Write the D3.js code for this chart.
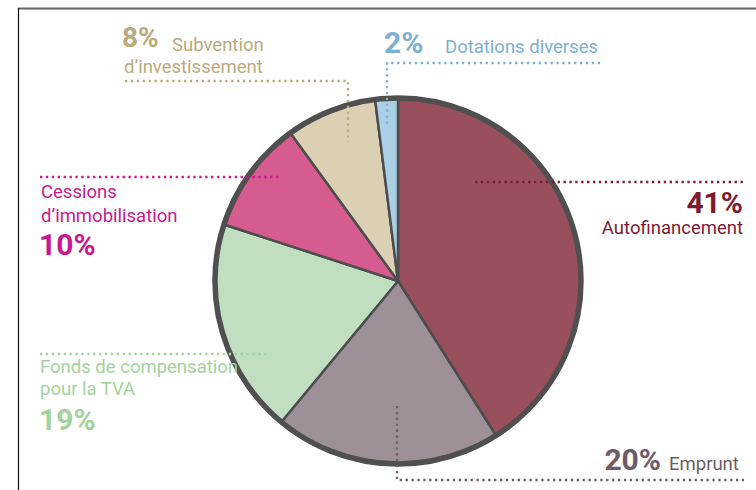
<!DOCTYPE html>
<html>
<head>
<meta charset="utf-8">
<script src="https://cdn.jsdelivr.net/npm/d3@7"></script>
<style>
  body { margin: 0; background: #fff; }
  svg text { font-family: Roboto, "DejaVu Sans", sans-serif; }
</style>
</head>
<body>
<div id="chart"></div>
<script>
// chart data
const categories = ['Autofinancement', 'Emprunt', 'Fonds de compensation pour la TVA',
  "Cessions d'immobilisation", "Subvention d'investissement", 'Dotations diverses'];
const values = [41, 20, 19, 10, 8, 2];
const percentLabels = ['41%', '20%', '19%', '10%', '8%', '2%'];

const sliceColors = ['#9a505c', '#9e9098', '#c1dfc0', '#d65b8f', '#dbd0b4', '#abcfe4'];
const textColors = ['#7b1a30', '#6e5b68', '#a3d39c', '#c8188e', '#bcaa7c', '#7cb0d4'];

const width = 756;
const height = 490;
const cx = 398, cy = 281, radius = 183;

const svg = d3.select('#chart')
  .append('svg')
  .attr('width', width)
  .attr('height', height);

// frame
svg.append('line')
  .attr('x1', 18).attr('y1', 8.5).attr('x2', width).attr('y2', 8.5)
  .attr('stroke', '#666').attr('stroke-width', 2);
svg.append('line')
  .attr('x1', 18.5).attr('y1', 8).attr('x2', 18.5).attr('y2', height)
  .attr('stroke', '#111').attr('stroke-width', 1.2);

// pie
const pie = d3.pie().sort(null).value((d) => d);
const arc = d3.arc().innerRadius(0).outerRadius(radius);
const arcs = pie(values);

const g = svg.append('g').attr('transform', 'translate(' + cx + ',' + cy + ')');
g.selectAll('path')
  .data(arcs)
  .enter()
  .append('path')
  .attr('d', arc)
  .attr('fill', (d, i) => sliceColors[i])
  .attr('stroke', '#4d4d4d')
  .attr('stroke-width', 2.5)
  .attr('stroke-linejoin', 'round');

g.append('circle')
  .attr('r', radius)
  .attr('fill', 'none')
  .attr('stroke', '#4f4f4f')
  .attr('stroke-width', 5.5);

// leader lines (dotted)
function dotted(points, color) {
  svg.append('path')
    .attr('d', d3.line()(points))
    .attr('fill', 'none')
    .attr('stroke', color)
    .attr('stroke-width', 2.3)
    .attr('stroke-dasharray', '2.3,3.6');
}

dotted([[475, 182], [744, 182]], textColors[0]);
dotted([[397, 406], [397, 480], [744, 480]], textColors[1]);
dotted([[40, 354], [268, 354]], textColors[2]);
dotted([[40, 177], [281, 177]], textColors[3]);
dotted([[125, 81], [348, 81], [348, 142]], textColors[4]);
dotted([[600, 63], [387, 63], [387, 124]], textColors[5]);

function label(x, y, txt, size, color, bold, anchor) {
  svg.append('text')
    .attr('x', x).attr('y', y)
    .attr('fill', color)
    .attr('font-size', size)
    .attr('font-weight', bold ? 700 : 400)
    .attr('text-anchor', anchor || 'start')
    .text(txt);
}

const txtSize = 18.5;

// Autofinancement
label(743, 213, percentLabels[0], 30, textColors[0], true, 'end');
label(743, 234, 'Autofinancement', txtSize, textColors[0], false, 'end');

// Emprunt
label(661, 470, percentLabels[1], 30, textColors[1], true, 'end');
label(669, 470, 'Emprunt', txtSize, textColors[1], false);

// Fonds de compensation
label(40, 373, 'Fonds de compensation', txtSize, textColors[2], false);
label(40, 395, 'pour la TVA', txtSize, textColors[2], false);
label(39, 430, percentLabels[2], 30, textColors[2], true);

// Cessions
label(41, 198, 'Cessions', txtSize, textColors[3], false);
label(41, 222, 'd\u2019immobilisation', txtSize, textColors[3], false);
label(39, 255, percentLabels[3], 30, textColors[3], true);

// Subvention
label(122, 47, percentLabels[4], 28, textColors[4], true);
label(172, 51, 'Subvention', txtSize, textColors[4], false);
label(124, 73, 'd\u2019investissement', txtSize, textColors[4], false);

// Dotations
label(384, 53, percentLabels[5], 30, textColors[5], true);
label(445, 53, 'Dotations diverses', txtSize, textColors[5], false);
</script>
</body>
</html>
